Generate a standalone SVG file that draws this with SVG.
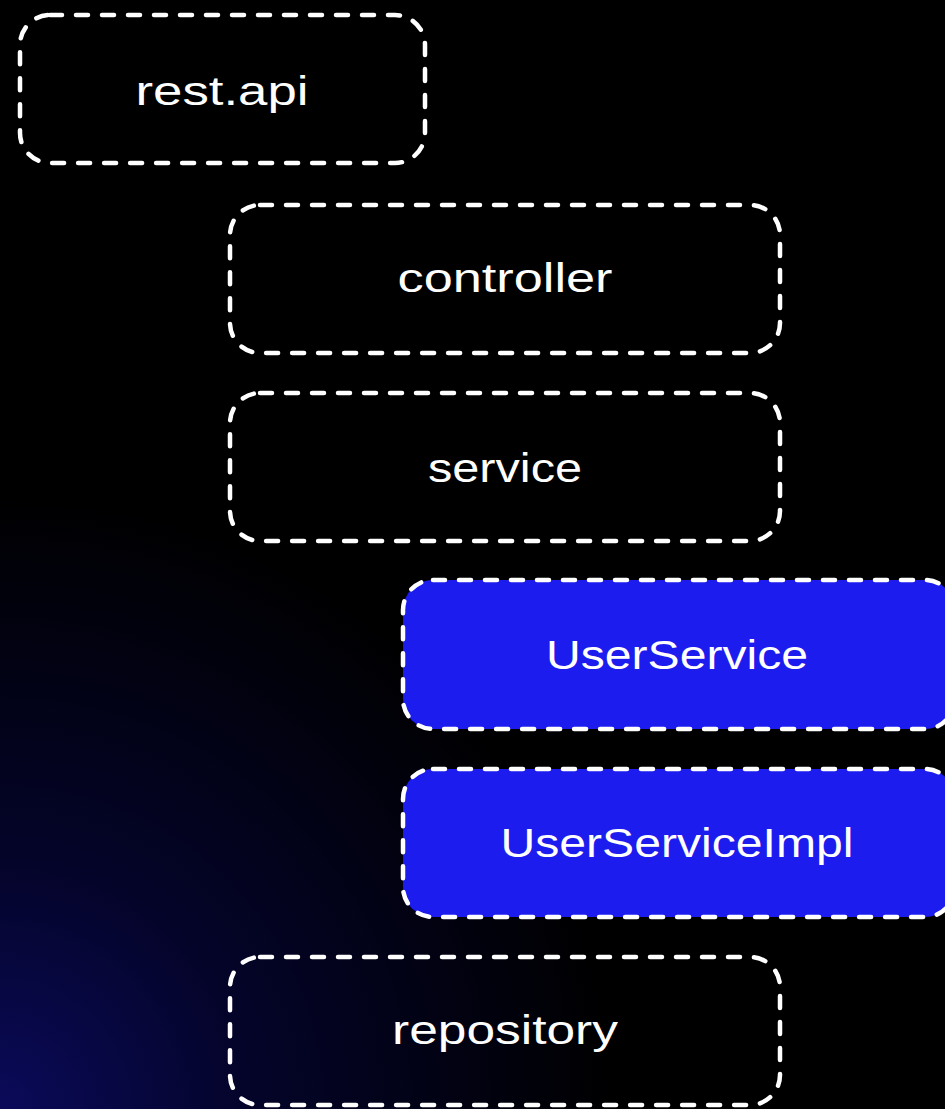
<svg xmlns="http://www.w3.org/2000/svg" width="945" height="1109" viewBox="0 0 945 1109">
  <defs>
    <radialGradient id="bg" cx="0" cy="1109" r="620" gradientUnits="userSpaceOnUse">
      <stop offset="0" stop-color="#0a0a5a"/>
      <stop offset="0.4" stop-color="#04042a"/>
      <stop offset="1" stop-color="#000000"/>
    </radialGradient>
    <style>
      .box { fill: none; stroke: #ffffff; stroke-width: 4.5; stroke-dasharray: 12 14; stroke-linecap: round; }
      .blue { fill: #1c1cef; }
      .lbl { font-family: "Liberation Sans", "Noto Sans", sans-serif; font-size: 40px; fill: #ffffff; text-anchor: middle; }
    </style>
  </defs>
  <rect x="0" y="0" width="945" height="1109" fill="url(#bg)"/>
  <g id="rest-api">
    <rect class="box" x="20" y="15" width="405" height="148" rx="30"/>
    <text class="lbl" x="222" y="105" textLength="173" lengthAdjust="spacingAndGlyphs">rest.api</text>
  </g>
  <g id="controller">
    <rect class="box" x="230" y="205" width="550" height="148" rx="30"/>
    <text class="lbl" x="505" y="292" textLength="215" lengthAdjust="spacingAndGlyphs">controller</text>
  </g>
  <g id="service">
    <rect class="box" x="230" y="393" width="550" height="148" rx="30"/>
    <text class="lbl" x="505" y="482" textLength="154" lengthAdjust="spacingAndGlyphs">service</text>
  </g>
  <g id="userservice">
    <rect class="box blue" x="403" y="580" width="552" height="149" rx="30"/>
    <text class="lbl" x="677" y="669" textLength="262" lengthAdjust="spacingAndGlyphs">UserService</text>
  </g>
  <g id="userserviceimpl">
    <rect class="box blue" x="403" y="769" width="552" height="148" rx="30"/>
    <text class="lbl" x="677" y="857" textLength="353" lengthAdjust="spacingAndGlyphs">UserServiceImpl</text>
  </g>
  <g id="repository">
    <rect class="box" x="230" y="957" width="550" height="148" rx="30"/>
    <text class="lbl" x="505" y="1044" textLength="226" lengthAdjust="spacingAndGlyphs">repository</text>
  </g>
  <g id="connectors"></g>
</svg>
